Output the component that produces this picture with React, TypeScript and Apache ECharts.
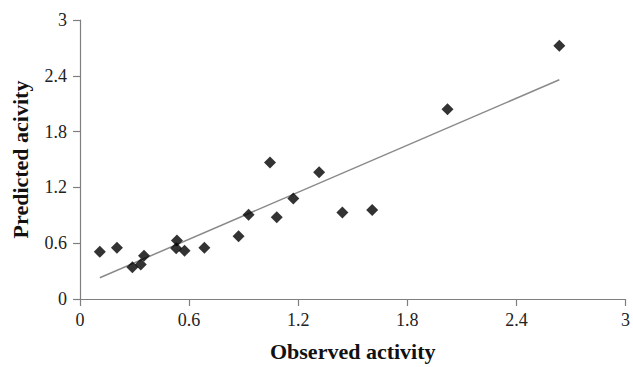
import React, { useEffect, useRef } from "react";
import * as echarts from "echarts";

const observed = [0.109, 0.203, 0.288, 0.334, 0.352, 0.533, 0.529, 0.575, 0.684, 0.872, 0.927, 1.045, 1.082, 1.173, 1.315, 1.443, 1.607, 2.021, 2.636];
const predicted = [0.507, 0.552, 0.341, 0.37, 0.465, 0.63, 0.546, 0.52, 0.552, 0.676, 0.905, 1.468, 0.88, 1.08, 1.362, 0.929, 0.958, 2.041, 2.724];
const trendX = [0.109, 2.636];
const trendY = [0.229, 2.358];
const tickValues = [0, 0.6, 1.2, 1.8, 2.4, 3];

const serif = "'Liberation Serif', 'Times New Roman', serif";

export default function App() {
  const ref = useRef<HTMLDivElement>(null);
  useEffect(() => {
    if (!ref.current) return;
    const chart = echarts.init(ref.current, undefined, { renderer: "svg" });
    const fmt = (v: number) => (tickValues.includes(Math.round(v * 10) / 10) ? String(Math.round(v * 10) / 10) : "");
    const axisCommon = {
      type: "value" as const,
      min: 0,
      max: 3,
      interval: 0.6,
      splitLine: { show: false },
      axisLine: { show: true, lineStyle: { color: "#7f7f7f", width: 1.2 } },
      axisTick: { show: true, length: 7, lineStyle: { color: "#7f7f7f", width: 1.2 } },
      axisLabel: { color: "#222", fontFamily: serif, fontSize: 18, formatter: fmt },
      nameLocation: "middle" as const,
      nameTextStyle: { color: "#111", fontFamily: serif, fontSize: 22, fontWeight: "bold" as const },
    };
    chart.setOption({
      animation: false,
      grid: { left: 80, right: 6, top: 20, bottom: 63 },
      xAxis: { ...axisCommon, name: "Observed activity", nameGap: 41, axisLabel: { ...axisCommon.axisLabel, margin: 12 } },
      yAxis: { ...axisCommon, name: "Predicted acivity", nameGap: 49, axisLabel: { ...axisCommon.axisLabel, margin: 13 } },
      series: [
        {
          type: "line",
          data: trendX.map((x, i) => [x, trendY[i]]),
          symbol: "none",
          lineStyle: { color: "#8a8a8a", width: 1.5 },
          z: 1,
        },
        {
          type: "scatter",
          data: observed.map((x, i) => [x, predicted[i]]),
          symbol: "diamond",
          symbolSize: 12,
          itemStyle: { color: "#000" },
          z: 2,
        },
      ],
    });
    return () => chart.dispose();
  }, []);
  return <div ref={ref} style={{ width: 633, height: 367, position: "absolute", left: 0, top: 0 }} />;
}
